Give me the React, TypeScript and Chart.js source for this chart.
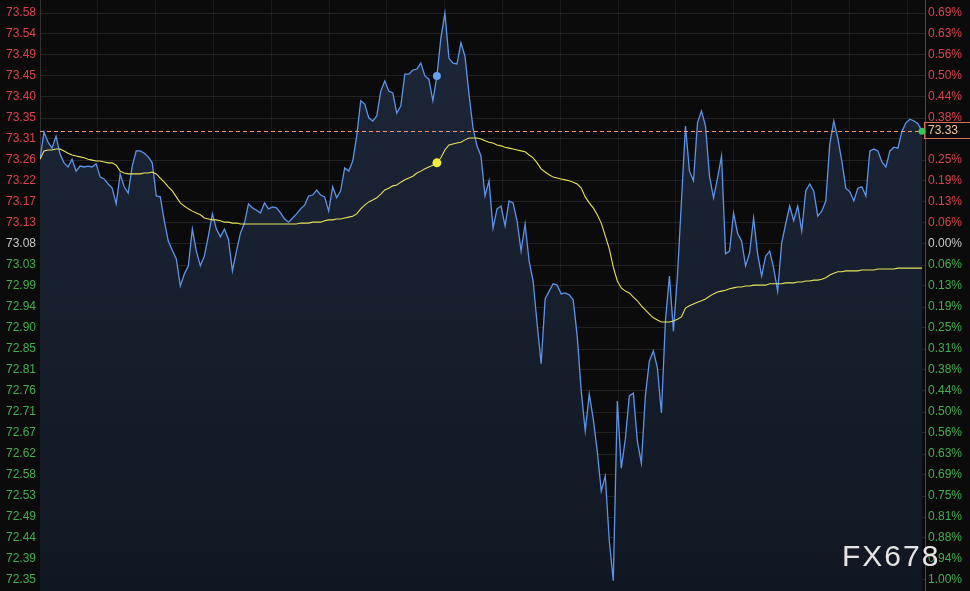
import React, { useEffect, useRef } from 'react';
import { Chart, registerables } from 'chart.js';

Chart.register(...registerables);

// ---- data ----
const basePrice = 73.0825; // reference (0.00%) price
const tickStepPct = 0.0625; // percent per horizontal grid step

const leftTickLabels = [
  '73.58', '73.54', '73.49', '73.45', '73.40', '73.35', '73.31', '73.26', '73.22', '73.17', '73.13',
  '73.08',
  '73.03', '72.99', '72.94', '72.90', '72.85', '72.81', '72.76', '72.71', '72.67', '72.62', '72.58',
  '72.53', '72.49', '72.44', '72.39', '72.35',
];

const rightTickLabels = [
  '0.69%', '0.63%', '0.56%', '0.50%', '0.44%', '0.38%', '0.31%', '0.25%', '0.19%', '0.13%', '0.06%',
  '0.00%',
  '0.06%', '0.13%', '0.19%', '0.25%', '0.31%', '0.38%', '0.44%', '0.50%', '0.56%', '0.63%', '0.69%',
  '0.75%', '0.81%', '0.88%', '0.94%', '1.00%',
];

const priceSeries = [
  73.267, 73.326, 73.304, 73.291, 73.317, 73.278, 73.259, 73.250, 73.267, 73.241,
  73.252, 73.250, 73.252, 73.250, 73.257, 73.228, 73.224, 73.213, 73.204, 73.170,
  73.235, 73.207, 73.193, 73.252, 73.285, 73.285, 73.280, 73.272, 73.259, 73.187,
  73.185, 73.133, 73.089, 73.069, 73.050, 72.991, 73.017, 73.035, 73.115, 73.067,
  73.035, 73.056, 73.100, 73.148, 73.115, 73.098, 73.115, 73.093, 73.024, 73.067,
  73.106, 73.128, 73.170, 73.161, 73.156, 73.150, 73.172, 73.159, 73.163, 73.161,
  73.150, 73.137, 73.130, 73.139, 73.148, 73.159, 73.167, 73.187, 73.189, 73.200,
  73.189, 73.185, 73.154, 73.207, 73.183, 73.198, 73.248, 73.241, 73.263, 73.317,
  73.394, 73.387, 73.357, 73.350, 73.361, 73.415, 73.437, 73.415, 73.411, 73.367,
  73.383, 73.452, 73.452, 73.461, 73.463, 73.476, 73.448, 73.441, 73.394, 73.448,
  73.531, 73.585, 73.487, 73.476, 73.474, 73.520, 73.491, 73.409, 73.335, 73.296,
  73.274, 73.187, 73.220, 73.117, 73.159, 73.165, 73.122, 73.176, 73.172, 73.133,
  73.067, 73.126, 73.046, 73.002, 72.909, 72.822, 72.963, 72.980, 72.996, 72.993,
  72.974, 72.976, 72.972, 72.961, 72.882, 72.763, 72.676, 72.756, 72.702, 72.632,
  72.545, 72.578, 72.437, 72.350, 72.741, 72.595, 72.658, 72.752, 72.758, 72.654,
  72.606, 72.752, 72.828, 72.850, 72.813, 72.715, 72.915, 73.013, 72.893, 73.013,
  73.176, 73.339, 73.241, 73.220, 73.346, 73.372, 73.339, 73.230, 73.183, 73.226,
  73.274, 73.061, 73.067, 73.150, 73.106, 73.089, 73.035, 73.063, 73.139, 73.061,
  73.013, 73.056, 73.067, 73.030, 72.980, 73.085, 73.126, 73.165, 73.133, 73.165,
  73.111, 73.198, 73.213, 73.198, 73.143, 73.154, 73.176, 73.300, 73.350, 73.313,
  73.263, 73.204, 73.196, 73.176, 73.204, 73.207, 73.187, 73.285, 73.289, 73.285,
  73.261, 73.250, 73.285, 73.293, 73.291, 73.328, 73.346, 73.354, 73.350, 73.344,
  73.328,
];

const averageSeries = [
  73.267, 73.285, 73.287, 73.287, 73.289, 73.289, 73.285, 73.280, 73.276, 73.274,
  73.272, 73.270, 73.267, 73.265, 73.263, 73.263, 73.261, 73.259, 73.259, 73.254,
  73.241, 73.237, 73.235, 73.235, 73.235, 73.235, 73.237, 73.237, 73.239, 73.235,
  73.226, 73.217, 73.207, 73.198, 73.185, 73.172, 73.165, 73.159, 73.154, 73.150,
  73.146, 73.139, 73.137, 73.135, 73.135, 73.133, 73.130, 73.130, 73.128, 73.128,
  73.126, 73.126, 73.126, 73.126, 73.126, 73.126, 73.126, 73.126, 73.126, 73.126,
  73.126, 73.126, 73.126, 73.126, 73.126, 73.128, 73.128, 73.128, 73.130, 73.130,
  73.130, 73.133, 73.135, 73.135, 73.137, 73.137, 73.139, 73.141, 73.143, 73.148,
  73.159, 73.167, 73.174, 73.178, 73.183, 73.191, 73.200, 73.204, 73.209, 73.211,
  73.217, 73.222, 73.226, 73.230, 73.237, 73.241, 73.246, 73.250, 73.254, 73.259,
  73.270, 73.287, 73.298, 73.300, 73.302, 73.304, 73.309, 73.313, 73.313, 73.313,
  73.311, 73.307, 73.304, 73.302, 73.298, 73.296, 73.293, 73.291, 73.289, 73.287,
  73.285, 73.283, 73.276, 73.270, 73.259, 73.246, 73.239, 73.233, 73.228, 73.226,
  73.224, 73.222, 73.220, 73.217, 73.213, 73.204, 73.185, 73.172, 73.161, 73.146,
  73.128, 73.100, 73.072, 73.032, 73.002, 72.987, 72.980, 72.976, 72.967, 72.959,
  72.948, 72.939, 72.930, 72.922, 72.917, 72.913, 72.913, 72.913, 72.915, 72.919,
  72.924, 72.943, 72.948, 72.952, 72.956, 72.959, 72.963, 72.969, 72.974, 72.978,
  72.980, 72.982, 72.985, 72.987, 72.989, 72.989, 72.991, 72.991, 72.993, 72.993,
  72.993, 72.993, 72.996, 72.996, 72.996, 72.996, 72.998, 72.998, 72.998, 73.000,
  73.000, 73.002, 73.002, 73.004, 73.004, 73.006, 73.009, 73.015, 73.019, 73.022,
  73.022, 73.024, 73.024, 73.024, 73.024, 73.026, 73.026, 73.026, 73.026, 73.028,
  73.028, 73.028, 73.028, 73.028, 73.030, 73.030, 73.030, 73.030, 73.030, 73.030,
  73.030,
];

const markerIndex = 99; // highlighted (crosshair) point
const watermarkText = 'FX678';

// ---- styles ----
const FONT = '"Liberation Sans", Arial, Helvetica, sans-serif';
const BG = '#0b0b0b';
const RED = '#d9434e';
const GREEN = '#46ad52';
const GRAY = '#c8c8c8';
const PRICE_COLOR = '#5e93ea';
const AVG_COLOR = '#e6e35c';

export default function App() {
  const canvasRef = useRef<HTMLCanvasElement | null>(null);

  useEffect(() => {
    const canvas = canvasRef.current;
    if (!canvas) return;

    const zeroIdx = leftTickLabels.indexOf('73.08');
    const step = (basePrice * tickStepPct) / 100;
    const tickValues = leftTickLabels.map((_, k) => basePrice + (zeroIdx - k) * step);
    const yMax = tickValues[0] + (13 / 21) * step;
    const yMin = tickValues[tickValues.length - 1] - (11 / 21) * step;
    const lastPrice = priceSeries[priceSeries.length - 1];

    const xMax = (priceSeries.length - 1) + 0.75;
    const xGridStep = 14.42;
    const xGrid: number[] = [];
    for (let v = 0; v <= xMax; v += xGridStep) xGrid.push(v);

    const labels = priceSeries.map((_, i) => i);

    const tickColor = (c: any) =>
      c.index < zeroIdx ? RED : c.index === zeroIdx ? GRAY : GREEN;

    const overlay = {
      id: 'overlay',
      beforeDraw(chart: any) {
        const ctx = chart.ctx;
        ctx.save();
        ctx.fillStyle = BG;
        ctx.fillRect(0, 0, chart.width, chart.height);
        ctx.restore();
      },
      afterDatasetsDraw(chart: any) {
        const { ctx, chartArea } = chart;
        const y = Math.round(chart.scales.y.getPixelForValue(lastPrice)) + 0.5;
        ctx.save();
        ctx.strokeStyle = '#ee9a6c';
        ctx.lineWidth = 1;
        ctx.setLineDash([4, 3]);
        ctx.beginPath();
        ctx.moveTo(chartArea.left, y);
        ctx.lineTo(chartArea.right, y);
        ctx.stroke();
        ctx.restore();
      },
      afterDraw(chart: any) {
        const { ctx, chartArea } = chart;
        const y = Math.round(chart.scales.y.getPixelForValue(lastPrice));
        ctx.save();
        // price tag
        ctx.strokeStyle = '#d9705a';
        ctx.lineWidth = 1;
        ctx.strokeRect(chartArea.right - 0.5, y - 8.5, 60, 16);
        ctx.fillStyle = '#f2c6a0';
        ctx.font = `12px ${FONT}`;
        ctx.textBaseline = 'middle';
        ctx.textAlign = 'left';
        ctx.fillText(lastPrice.toFixed(2), chartArea.right + 3, y);
        // end point
        const meta = chart.getDatasetMeta(0);
        const pt = meta.data[meta.data.length - 1];
        if (pt) {
          ctx.fillStyle = '#38c45c';
          ctx.beginPath();
          ctx.arc(pt.x, pt.y, 3.5, 0, Math.PI * 2);
          ctx.fill();
        }
        // watermark
        ctx.fillStyle = '#e4e4e4';
        ctx.font = `30px ${FONT}`;
        ctx.textBaseline = 'alphabetic';
        (ctx as any).letterSpacing = '2px';
        ctx.fillText(watermarkText, 842, 566);
        ctx.restore();
      },
    };

    const chart = new Chart(canvas, {
      type: 'line',
      data: {
        labels,
        datasets: [
          {
            data: priceSeries.map((v, i) => ({ x: i, y: v })),
            borderColor: PRICE_COLOR,
            borderWidth: 1.3,
            tension: 0,
            fill: 'start',
            backgroundColor: (c: any) => {
              const area = c.chart.chartArea;
              if (!area) return 'rgba(25,34,52,1)';
              const g = c.chart.ctx.createLinearGradient(0, area.top, 0, area.bottom);
              g.addColorStop(0, '#1d2739');
              g.addColorStop(1, '#111722');
              return g;
            },
            pointRadius: (c: any) => (c.dataIndex === markerIndex ? 4 : 0),
            pointBackgroundColor: '#6aa0f2',
            pointBorderWidth: 0,
            order: 2,
          },
          {
            data: averageSeries.map((v, i) => ({ x: i, y: v })),
            borderColor: AVG_COLOR,
            borderWidth: 1.1,
            tension: 0,
            fill: false,
            pointRadius: (c: any) => (c.dataIndex === markerIndex ? 4.5 : 0),
            pointBackgroundColor: '#f4ea3c',
            pointBorderWidth: 0,
            order: 1,
          },
        ],
      },
      options: {
        animation: false,
        responsive: false,
        events: [],
        layout: { padding: 0 },
        plugins: {
          legend: { display: false },
          tooltip: { enabled: false },
        },
        scales: {
          x: {
            type: 'linear',
            min: 0,
            max: xMax,
            ticks: { display: false },
            grid: { color: 'rgba(255,255,255,0.06)', drawTicks: false },
            border: { display: false },
            afterBuildTicks: (s: any) => {
              s.ticks = xGrid.map((v) => ({ value: v }));
            },
            afterFit: (s: any) => {
              s.height = 0;
              s.paddingLeft = 0;
              s.paddingRight = 0;
            },
          },
          y: {
            position: 'left',
            min: yMin,
            max: yMax,
            grid: { color: 'rgba(255,255,255,0.10)', drawTicks: false },
            border: { display: true, color: '#333333' },
            ticks: {
              autoSkip: false,
              padding: 4,
              color: tickColor,
              font: { size: 12, family: FONT },
              callback: (_v: any, i: number) => leftTickLabels[i],
            },
            afterBuildTicks: (s: any) => {
              s.ticks = tickValues.map((v) => ({ value: v }));
            },
            afterFit: (s: any) => {
              s.width = 40;
              s.paddingTop = 0;
              s.paddingBottom = 0;
            },
          },
          yR: {
            position: 'right',
            min: yMin,
            max: yMax,
            grid: { display: false, drawTicks: false },
            border: { display: true, color: '#4a4a4a' },
            ticks: {
              autoSkip: false,
              padding: 3,
              color: tickColor,
              font: { size: 12, family: FONT },
              callback: (v: any, i: number) =>
                Math.abs(Number(v) - lastPrice) < 0.02 ? '' : rightTickLabels[i],
            },
            afterBuildTicks: (s: any) => {
              s.ticks = tickValues.map((v) => ({ value: v }));
            },
            afterFit: (s: any) => {
              s.width = 45;
              s.paddingTop = 0;
              s.paddingBottom = 0;
            },
          },
        },
      } as any,
      plugins: [overlay],
    });

    return () => chart.destroy();
  }, []);

  return (
    <div
      style={{
        position: 'fixed',
        left: 0,
        top: 0,
        width: 970,
        height: 591,
        background: BG,
        overflow: 'hidden',
      }}
    >
      <canvas ref={canvasRef} width={970} height={591} style={{ display: 'block' }} />
    </div>
  );
}
